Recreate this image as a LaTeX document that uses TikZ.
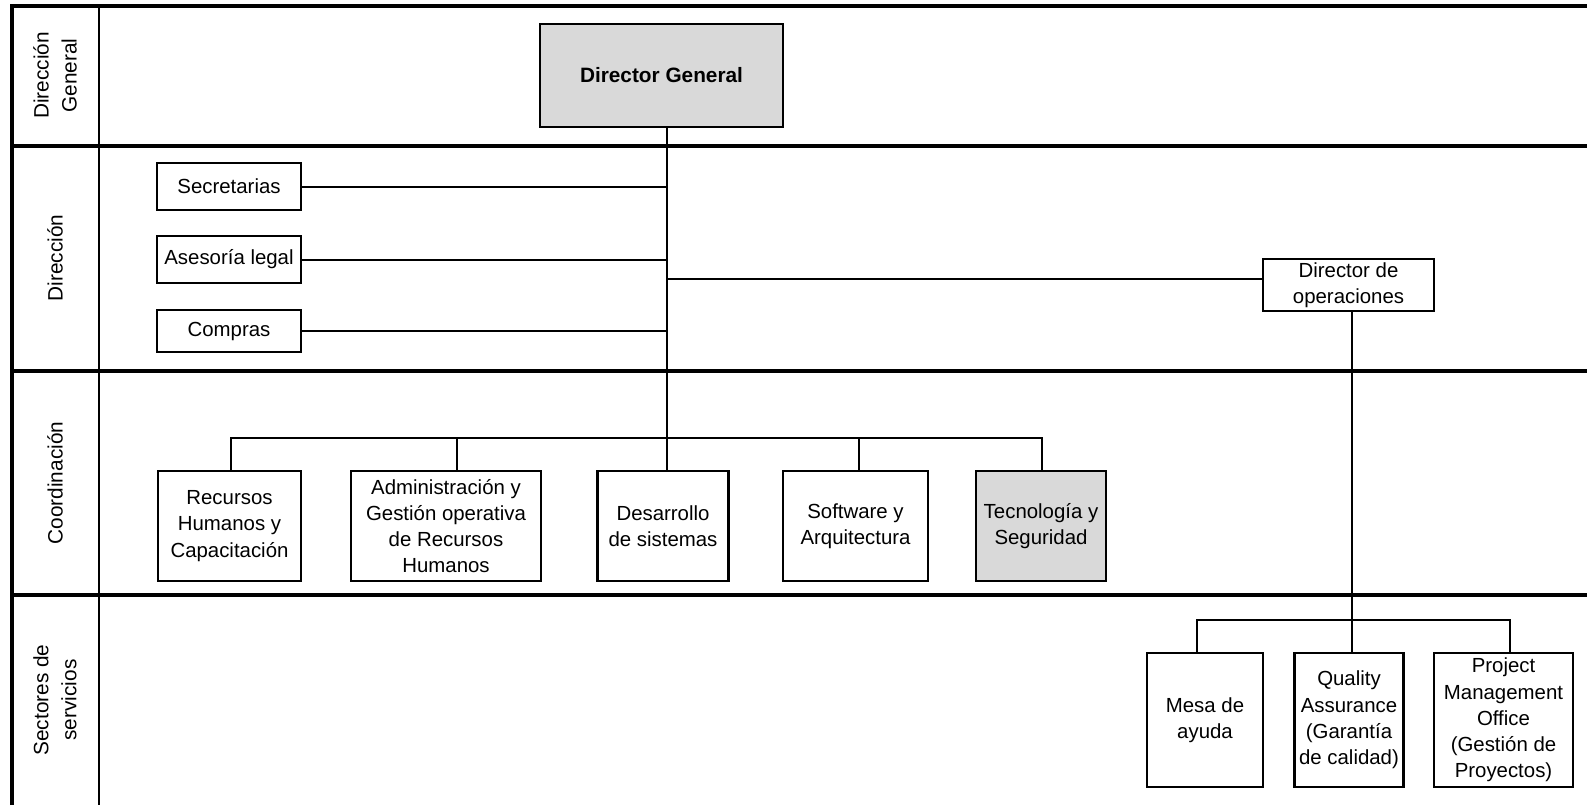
\documentclass[tikz,border=0pt]{standalone}
\usepackage{fontspec}
\setmainfont{Liberation Sans}
\definecolor{boxgray}{HTML}{D9D9D9}
\tikzset{
  box/.style={draw=black, line width=1.1pt, fill=white, align=center, inner sep=0pt,
    font=\fontsize{10.2}{13.1}\selectfont},
  gbox/.style={box, fill=boxgray},
  laneline/.style={line width=2pt},
  innerline/.style={line width=1pt},
  conn/.style={line width=1pt},
  lanelabel/.style={rotate=90, align=center, inner sep=0pt, font=\fontsize{10.4}{14}\selectfont}
}
\begin{document}
\begin{tikzpicture}[x=0.5pt, y=-0.5pt]
\useasboundingbox (0,0) rectangle (1587,805);
% frame and lanes
\draw[laneline, line join=miter] (11.5,805) -- (11.5,5.5) -- (1587,5.5);
\draw[innerline] (98.5,5.5) -- (98.5,805);
\draw[laneline] (11.5,145.5) -- (1587,145.5);
\draw[laneline] (11.5,371) -- (1587,371);
\draw[laneline] (11.5,595) -- (1587,595);
% lane labels
\node[lanelabel] (l1) at (55,75.5) {Dirección\\General};
\node[lanelabel] (l2) at (55,258) {Dirección};
\node[lanelabel] (l3) at (55,483) {Coordinación};
\node[lanelabel] (l4) at (55,700) {Sectores de\\servicios};
% nodes
\node[gbox, minimum width=121.5pt, minimum height=51.5pt, font=\fontsize{10.4}{13.1}\selectfont\bfseries] (dg) at (661.5,75.5) {Director General};
\node[box, minimum width=72pt, minimum height=23.5pt] (sec) at (229,186.5) {Secretarias};
\node[box, minimum width=72pt, minimum height=23.5pt] (ase) at (229,259.5) {Asesoría legal};
\node[box, minimum width=72pt, minimum height=21pt] (com) at (229,331) {Compras};
\node[box, minimum width=85.5pt, minimum height=26pt] (ddo) at (1348.5,285) {Director de\\operaciones};
\node[box, minimum width=71.5pt, minimum height=55pt] (rh) at (229.5,526) {Recursos\\Humanos y\\Capacitación};
\node[box, minimum width=95pt, minimum height=55pt] (adm) at (446,526) {Administración y\\Gestión operativa\\de Recursos\\Humanos};
\node[box, minimum width=65.5pt, minimum height=55pt] (des) at (663,526) {Desarrollo\\de sistemas};
\node[box, minimum width=72.5pt, minimum height=55pt] (sof) at (855.5,526) {Software y\\Arquitectura};
\node[gbox, minimum width=65pt, minimum height=55pt] (tec) at (1041,526) {Tecnología y\\Seguridad};
\node[box, minimum width=58pt, minimum height=67pt] (mesa) at (1205,720) {Mesa de\\ayuda};
\node[box, minimum width=54.5pt, minimum height=67pt] (qa) at (1349,720) {Quality\\Assurance\\(Garantía\\de calidad)};
\node[box, minimum width=69.5pt, minimum height=67pt] (pmo) at (1503.5,720) {Project\\Management\\Office\\(Gestión de\\Proyectos)};
% junction coordinates
\coordinate (busC) at (667,438);
\coordinate (dj) at (667,279);
\coordinate (rb) at (231,438);
\coordinate (ab) at (457,438);
\coordinate (sb) at (859,438);
\coordinate (tb) at (1042,438);
\coordinate (qx) at (1352,620);
\coordinate (mb) at (1197,620);
\coordinate (pb) at (1510,620);
% connectors
\draw[conn] (dg.south -| busC) -- (des.north -| busC);
\draw[conn] (sec.east) -- (sec.east -| busC);
\draw[conn] (ase.east) -- (ase.east -| busC);
\draw[conn] (com.east) -- (com.east -| busC);
\draw[conn] (dj) -- (dj -| ddo.west);
\draw[conn] (rh.north -| rb) -- (rb) -- (tb) -- (tec.north -| tb);
\draw[conn] (ab) -- (adm.north -| ab);
\draw[conn] (sb) -- (sof.north -| sb);
\draw[conn] (ddo.south -| qx) -- (qa.north -| qx);
\draw[conn] (mesa.north -| mb) -- (mb) -- (pb) -- (pmo.north -| pb);
\end{tikzpicture}
\end{document}
